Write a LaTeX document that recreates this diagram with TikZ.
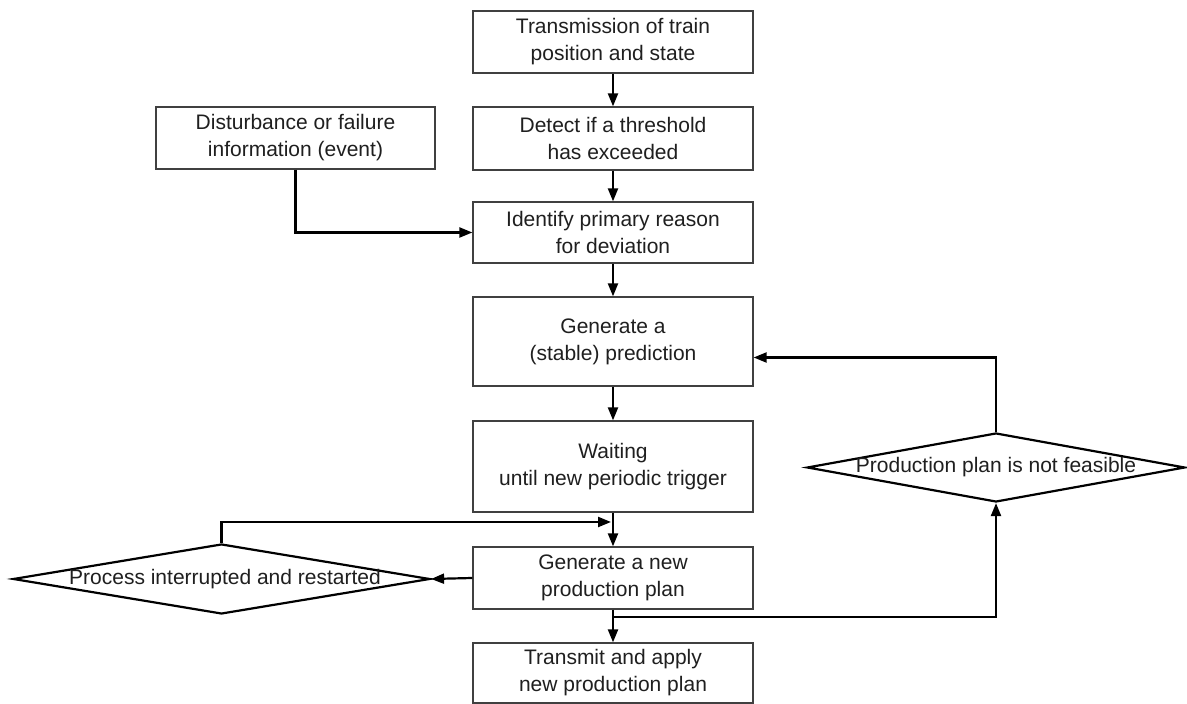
\documentclass[tikz,border=0pt]{standalone}
\usepackage{fontspec}
\setmainfont{Liberation Sans}
\usetikzlibrary{arrows.meta,shapes.geometric}
\begin{document}
\begin{tikzpicture}[x=1pt,y=1pt,
  font=\fontsize{21}{27}\selectfont,
  stepbox/.style={draw=black!75,line width=1.3pt,rectangle,align=center,
    minimum width=280pt,inner sep=0pt,text=black!88},
  decision/.style={draw=black,line width=2.2pt,diamond,inner sep=0pt,aspect=1,text=black!88},
  flow/.style={draw=black,line width=2.2pt,-{Triangle[length=13pt,width=10pt]}}]
\useasboundingbox (0,0) rectangle (1187,704);
\fill[white] (0,0) rectangle (1187,704);

% main column
\node[stepbox,minimum height=62pt] (b1) at (613,662) {Transmission of train\\position and state};
\node[stepbox,minimum height=63pt] (b2) at (613,565.5) {Detect if a threshold\\has exceeded};
\node[stepbox,minimum height=61pt] (b3) at (613,471.5) {Identify primary reason\\for deviation};
\node[stepbox,minimum height=89pt] (b4) at (613,362.5) {Generate a\\(stable) prediction};
\node[stepbox,minimum height=91pt] (b5) at (613,237.5) {Waiting\\ until new periodic trigger};
\node[stepbox,minimum height=62pt] (b6) at (613,126) {Generate a new\\production plan};
\node[stepbox,minimum height=60pt] (b7) at (613,31) {Transmit and apply\\new production plan};

% event input
\node[stepbox,minimum width=279pt,minimum height=62pt] (ev) at (295.5,566) {Disturbance or failure\\information (event)};

% decisions
\node[decision,minimum width=417pt,minimum height=70pt] (dl) at (221.5,125)
  {\makebox[0pt]{\hspace{7pt}Process interrupted and restarted}};
\node[decision,minimum width=378pt,minimum height=69pt] (dr) at (996,236.5)
  {\makebox[0pt]{Production plan is not feasible}};

% straight flow
\draw[flow] (b1) -- (b2);
\draw[flow] (b2) -- (b3);
\draw[flow] (b3) -- (b4);
\draw[flow] (b4) -- (b5);
\draw[flow] (b5) -- (b6);
\draw[flow] (b6) -- (b7);
\draw[flow] (ev.south) |- (b3.west);

% restart loop
\coordinate (rj) at (611,182);
\draw[flow] (b6.west) -- (dl.east);
\draw[flow] (dl.north) |- (rj);

% infeasible loop
\coordinate (fj) at (613,87);
\draw[flow] (fj) -| (dr.south);
\draw[flow] (dr.north) |- ([yshift=-16pt]b4.east);
\end{tikzpicture}
\end{document}
